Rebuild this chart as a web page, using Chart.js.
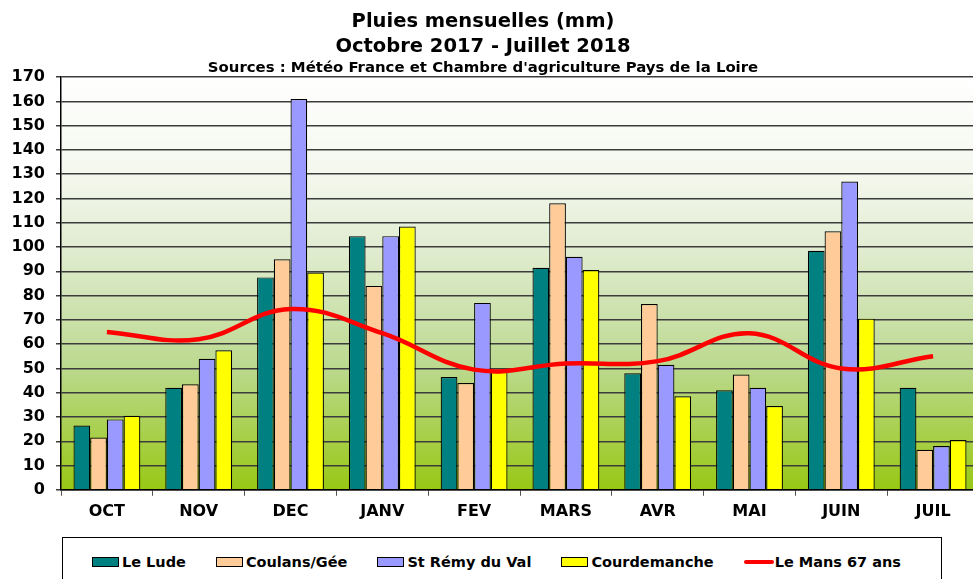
<!DOCTYPE html>
<html>
<head>
<meta charset="utf-8">
<script src="https://cdn.jsdelivr.net/npm/chart.js@4.4.0/dist/chart.umd.min.js"></script>
<style>
  body { margin: 0; background: #fff; overflow: hidden; }
  #wrap { position: relative; width: 973px; height: 579px; overflow: hidden; }
  #legend {
    position: absolute; left: 62px; top: 537px; width: 880px; height: 60px;
    border: 1px solid #000; background: #fff; box-sizing: border-box;
    display: flex; align-items: flex-start; padding: 15px 0 0 29px; gap: 30px;
    font: bold 14.5px 'DejaVu Sans', sans-serif; color: #000; line-height: 18px;
  }
  .item { display: flex; align-items: center; white-space: nowrap; }
  .box { width: 27px; height: 10px; border: 1px solid #000; box-sizing: border-box; margin-right: 3px; }
  .ln { width: 30px; height: 4px; margin-right: 1px; border-radius: 2px; }
</style>
</head>
<body>
<div id="wrap">
  <canvas id="rain" width="985" height="579"></canvas>
  <div id="legend"></div>
</div>
<script>
const categories = ['OCT', 'NOV', 'DEC', 'JANV', 'FEV', 'MARS', 'AVR', 'MAI', 'JUIN', 'JUIL'];
const leLude = [26.5, 42, 87.5, 104.5, 46.5, 91.5, 48, 41, 98.5, 42];
const coulans = [21.5, 43.5, 95, 84, 44, 118, 76.5, 47.5, 106.5, 16.5];
const stRemy = [29, 54, 161, 104.5, 77, 96, 51.5, 42, 127, 18];
const courdemanche = [30.5, 57.5, 89.5, 108.5, 49, 90.5, 38.5, 34.5, 70.5, 20.5];
const leMans = [65, 62, 74.5, 64.5, 49.5, 52, 53, 64.5, 50, 55];

// green gradient behind the plot
const plotBg = {
  id: 'plotBg',
  beforeDraw(chart) {
    const { ctx, chartArea: a } = chart;
    const g = ctx.createLinearGradient(0, a.top, 0, a.bottom);
    g.addColorStop(0, '#ffffff');
    g.addColorStop(0.25, '#f3f7ec');
    g.addColorStop(0.42, '#e0ecd0');
    g.addColorStop(0.7, '#bcd98f');
    g.addColorStop(1, '#98c814');
    ctx.save();
    ctx.fillStyle = g;
    ctx.fillRect(a.left, a.top, a.right - a.left, a.bottom - a.top);
    ctx.restore();
  }
};

const bar = (label, data, color) => ({
  label, data, backgroundColor: color, borderColor: '#000', borderWidth: 1.2,
  categoryPercentage: 0.728, barPercentage: 1, order: 1
});

Chart.defaults.font.family = "'DejaVu Sans', sans-serif";
Chart.defaults.color = '#000';

const chart = new Chart(document.getElementById('rain'), {
  type: 'bar',
  data: {
    labels: categories,
    datasets: [
      bar('Le Lude', leLude, '#008080'),
      bar('Coulans/Gée', coulans, '#ffcc99'),
      bar('St Rémy du Val', stRemy, '#9999ff'),
      bar('Courdemanche', courdemanche, '#ffff00'),
      {
        type: 'line', label: 'Le Mans 67 ans', data: leMans,
        borderColor: '#ff0000', backgroundColor: '#ff0000', borderWidth: 4.5,
        tension: 0.4, pointRadius: 0, fill: false, order: 0
      }
    ]
  },
  options: {
    responsive: false,
    devicePixelRatio: 1,
    animation: false,
    layout: { padding: { left: -13, right: 6, top: 0, bottom: 52 } },
    plugins: {
      legend: { display: false },
      tooltip: { enabled: false },
      title: {
        display: true,
        text: ['Pluies mensuelles (mm)', 'Octobre 2017 - Juillet 2018'],
        font: { size: 19.5, weight: 'bold', lineHeight: 1.25 },
        padding: { top: 10, bottom: 1 }
      },
      subtitle: {
        display: true,
        text: "Sources : Météo France et Chambre d'agriculture Pays de la Loire",
        font: { size: 14.9, weight: 'bold', lineHeight: 1.1 },
        padding: { top: 0, bottom: 1 }
      }
    },
    scales: {
      x: {
        grid: { offset: true, drawOnChartArea: false, tickLength: 6, color: '#555' },
        border: { color: '#000', width: 1.5 },
        ticks: { padding: 6, font: { size: 16, weight: 'bold' } }
      },
      y: {
        min: 0, max: 170,
        ticks: { stepSize: 10, padding: 11, font: { size: 16, weight: 'bold' } },
        grid: { color: '#3c3c3c', lineWidth: 1.5, tickLength: 5 },
        border: { color: '#000', width: 1.5 },
        afterFit(scale) { scale.width = 74; }
      }
    }
  },
  plugins: [plotBg]
});

// html legend built from the chart datasets
const legendEl = document.getElementById('legend');
chart.data.datasets.forEach(ds => {
  const item = document.createElement('div');
  item.className = 'item';
  const mark = document.createElement('span');
  if (ds.type === 'line') {
    mark.className = 'ln';
    mark.style.background = ds.borderColor;
  } else {
    mark.className = 'box';
    mark.style.background = ds.backgroundColor;
  }
  item.appendChild(mark);
  item.appendChild(document.createTextNode(ds.label));
  legendEl.appendChild(item);
});
</script>
</body>
</html>
